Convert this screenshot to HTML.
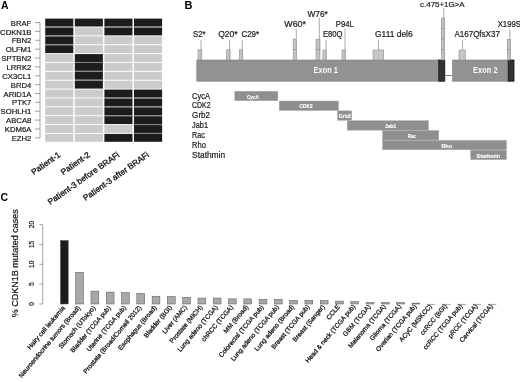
<!DOCTYPE html>
<html><head><meta charset="utf-8"><style>
html,body{margin:0;padding:0;background:#fff;width:520px;height:382px;overflow:hidden}
svg{display:block;will-change:transform;filter:blur(0.35px)}
text{font-family:"Liberation Sans", sans-serif}
</style></head><body>
<svg width="520" height="382" viewBox="0 0 520 382">
<rect width="520" height="382" fill="#fff"/>
<text x="0.9" y="9.3" font-size="10.4" font-weight="bold" fill="#000">A</text>
<rect x="45.20" y="18.60" width="28.1" height="7.9" fill="#1c1c1c"/>
<rect x="45.20" y="27.47" width="28.1" height="7.9" fill="#1c1c1c"/>
<rect x="45.20" y="36.34" width="28.1" height="7.9" fill="#1c1c1c"/>
<rect x="45.20" y="45.21" width="28.1" height="7.9" fill="#1c1c1c"/>
<rect x="45.20" y="54.08" width="28.1" height="7.9" fill="#cbcbcb"/>
<rect x="45.20" y="62.95" width="28.1" height="7.9" fill="#cbcbcb"/>
<rect x="45.20" y="71.82" width="28.1" height="7.9" fill="#cbcbcb"/>
<rect x="45.20" y="80.69" width="28.1" height="7.9" fill="#cbcbcb"/>
<rect x="45.20" y="89.56" width="28.1" height="7.9" fill="#cbcbcb"/>
<rect x="45.20" y="98.43" width="28.1" height="7.9" fill="#cbcbcb"/>
<rect x="45.20" y="107.30" width="28.1" height="7.9" fill="#cbcbcb"/>
<rect x="45.20" y="116.17" width="28.1" height="7.9" fill="#cbcbcb"/>
<rect x="45.20" y="125.04" width="28.1" height="7.9" fill="#cbcbcb"/>
<rect x="45.20" y="133.91" width="28.1" height="7.9" fill="#cbcbcb"/>
<rect x="74.80" y="18.60" width="28.1" height="7.9" fill="#1c1c1c"/>
<rect x="74.80" y="27.47" width="28.1" height="7.9" fill="#cbcbcb"/>
<rect x="74.80" y="36.34" width="28.1" height="7.9" fill="#cbcbcb"/>
<rect x="74.80" y="45.21" width="28.1" height="7.9" fill="#cbcbcb"/>
<rect x="74.80" y="54.08" width="28.1" height="7.9" fill="#1c1c1c"/>
<rect x="74.80" y="62.95" width="28.1" height="7.9" fill="#1c1c1c"/>
<rect x="74.80" y="71.82" width="28.1" height="7.9" fill="#1c1c1c"/>
<rect x="74.80" y="80.69" width="28.1" height="7.9" fill="#1c1c1c"/>
<rect x="74.80" y="89.56" width="28.1" height="7.9" fill="#cbcbcb"/>
<rect x="74.80" y="98.43" width="28.1" height="7.9" fill="#cbcbcb"/>
<rect x="74.80" y="107.30" width="28.1" height="7.9" fill="#cbcbcb"/>
<rect x="74.80" y="116.17" width="28.1" height="7.9" fill="#cbcbcb"/>
<rect x="74.80" y="125.04" width="28.1" height="7.9" fill="#cbcbcb"/>
<rect x="74.80" y="133.91" width="28.1" height="7.9" fill="#cbcbcb"/>
<rect x="104.40" y="18.60" width="28.1" height="7.9" fill="#1c1c1c"/>
<rect x="104.40" y="27.47" width="28.1" height="7.9" fill="#1c1c1c"/>
<rect x="104.40" y="36.34" width="28.1" height="7.9" fill="#cbcbcb"/>
<rect x="104.40" y="45.21" width="28.1" height="7.9" fill="#cbcbcb"/>
<rect x="104.40" y="54.08" width="28.1" height="7.9" fill="#cbcbcb"/>
<rect x="104.40" y="62.95" width="28.1" height="7.9" fill="#cbcbcb"/>
<rect x="104.40" y="71.82" width="28.1" height="7.9" fill="#cbcbcb"/>
<rect x="104.40" y="80.69" width="28.1" height="7.9" fill="#cbcbcb"/>
<rect x="104.40" y="89.56" width="28.1" height="7.9" fill="#1c1c1c"/>
<rect x="104.40" y="98.43" width="28.1" height="7.9" fill="#1c1c1c"/>
<rect x="104.40" y="107.30" width="28.1" height="7.9" fill="#1c1c1c"/>
<rect x="104.40" y="116.17" width="28.1" height="7.9" fill="#1c1c1c"/>
<rect x="104.40" y="125.04" width="28.1" height="7.9" fill="#cbcbcb"/>
<rect x="104.40" y="133.91" width="28.1" height="7.9" fill="#1c1c1c"/>
<rect x="134.00" y="18.60" width="28.1" height="7.9" fill="#1c1c1c"/>
<rect x="134.00" y="27.47" width="28.1" height="7.9" fill="#1c1c1c"/>
<rect x="134.00" y="36.34" width="28.1" height="7.9" fill="#cbcbcb"/>
<rect x="134.00" y="45.21" width="28.1" height="7.9" fill="#cbcbcb"/>
<rect x="134.00" y="54.08" width="28.1" height="7.9" fill="#cbcbcb"/>
<rect x="134.00" y="62.95" width="28.1" height="7.9" fill="#cbcbcb"/>
<rect x="134.00" y="71.82" width="28.1" height="7.9" fill="#cbcbcb"/>
<rect x="134.00" y="80.69" width="28.1" height="7.9" fill="#cbcbcb"/>
<rect x="134.00" y="89.56" width="28.1" height="7.9" fill="#1c1c1c"/>
<rect x="134.00" y="98.43" width="28.1" height="7.9" fill="#1c1c1c"/>
<rect x="134.00" y="107.30" width="28.1" height="7.9" fill="#1c1c1c"/>
<rect x="134.00" y="116.17" width="28.1" height="7.9" fill="#1c1c1c"/>
<rect x="134.00" y="125.04" width="28.1" height="7.9" fill="#1c1c1c"/>
<rect x="134.00" y="133.91" width="28.1" height="7.9" fill="#1c1c1c"/>
<rect x="45.20" y="26.50" width="28.1" height="0.97" fill="#7a7a7a"/>
<rect x="45.20" y="35.37" width="28.1" height="0.97" fill="#7a7a7a"/>
<rect x="45.20" y="44.24" width="28.1" height="0.97" fill="#7a7a7a"/>
<rect x="74.80" y="61.98" width="28.1" height="0.97" fill="#7a7a7a"/>
<rect x="74.80" y="70.85" width="28.1" height="0.97" fill="#7a7a7a"/>
<rect x="74.80" y="79.72" width="28.1" height="0.97" fill="#7a7a7a"/>
<rect x="104.40" y="26.50" width="28.1" height="0.97" fill="#7a7a7a"/>
<rect x="104.40" y="97.46" width="28.1" height="0.97" fill="#7a7a7a"/>
<rect x="104.40" y="106.33" width="28.1" height="0.97" fill="#7a7a7a"/>
<rect x="104.40" y="115.20" width="28.1" height="0.97" fill="#7a7a7a"/>
<rect x="134.00" y="26.50" width="28.1" height="0.97" fill="#7a7a7a"/>
<rect x="134.00" y="97.46" width="28.1" height="0.97" fill="#7a7a7a"/>
<rect x="134.00" y="106.33" width="28.1" height="0.97" fill="#7a7a7a"/>
<rect x="134.00" y="115.20" width="28.1" height="0.97" fill="#7a7a7a"/>
<rect x="134.00" y="124.07" width="28.1" height="0.97" fill="#7a7a7a"/>
<rect x="134.00" y="132.94" width="28.1" height="0.97" fill="#7a7a7a"/>
<line x1="40" y1="22.55" x2="40" y2="137.86" stroke="#8a8a8a" stroke-width="0.8"/>
<line x1="35" y1="22.55" x2="40" y2="22.55" stroke="#8a8a8a" stroke-width="0.8"/>
<text x="31.3" y="25.65" font-size="7.7" text-anchor="end" fill="#111" stroke="#111" stroke-width="0.18">BRAF</text>
<line x1="35" y1="31.42" x2="40" y2="31.42" stroke="#8a8a8a" stroke-width="0.8"/>
<text x="31.3" y="34.52" font-size="7.7" text-anchor="end" fill="#111" stroke="#111" stroke-width="0.18">CDKN1B</text>
<line x1="35" y1="40.29" x2="40" y2="40.29" stroke="#8a8a8a" stroke-width="0.8"/>
<text x="31.3" y="43.39" font-size="7.7" text-anchor="end" fill="#111" stroke="#111" stroke-width="0.18">FBN2</text>
<line x1="35" y1="49.16" x2="40" y2="49.16" stroke="#8a8a8a" stroke-width="0.8"/>
<text x="31.3" y="52.26" font-size="7.7" text-anchor="end" fill="#111" stroke="#111" stroke-width="0.18">OLFM1</text>
<line x1="35" y1="58.03" x2="40" y2="58.03" stroke="#8a8a8a" stroke-width="0.8"/>
<text x="31.3" y="61.13" font-size="7.7" text-anchor="end" fill="#111" stroke="#111" stroke-width="0.18">SPTBN2</text>
<line x1="35" y1="66.90" x2="40" y2="66.90" stroke="#8a8a8a" stroke-width="0.8"/>
<text x="31.3" y="70.00" font-size="7.7" text-anchor="end" fill="#111" stroke="#111" stroke-width="0.18">LRRK2</text>
<line x1="35" y1="75.77" x2="40" y2="75.77" stroke="#8a8a8a" stroke-width="0.8"/>
<text x="31.3" y="78.87" font-size="7.7" text-anchor="end" fill="#111" stroke="#111" stroke-width="0.18">CX3CL1</text>
<line x1="35" y1="84.64" x2="40" y2="84.64" stroke="#8a8a8a" stroke-width="0.8"/>
<text x="31.3" y="87.74" font-size="7.7" text-anchor="end" fill="#111" stroke="#111" stroke-width="0.18">BRD4</text>
<line x1="35" y1="93.51" x2="40" y2="93.51" stroke="#8a8a8a" stroke-width="0.8"/>
<text x="31.3" y="96.61" font-size="7.7" text-anchor="end" fill="#111" stroke="#111" stroke-width="0.18">ARID1A</text>
<line x1="35" y1="102.38" x2="40" y2="102.38" stroke="#8a8a8a" stroke-width="0.8"/>
<text x="31.3" y="105.48" font-size="7.7" text-anchor="end" fill="#111" stroke="#111" stroke-width="0.18">PTK7</text>
<line x1="35" y1="111.25" x2="40" y2="111.25" stroke="#8a8a8a" stroke-width="0.8"/>
<text x="31.3" y="114.35" font-size="7.7" text-anchor="end" fill="#111" stroke="#111" stroke-width="0.18">SOHLH1</text>
<line x1="35" y1="120.12" x2="40" y2="120.12" stroke="#8a8a8a" stroke-width="0.8"/>
<text x="31.3" y="123.22" font-size="7.7" text-anchor="end" fill="#111" stroke="#111" stroke-width="0.18">ABCA8</text>
<line x1="35" y1="128.99" x2="40" y2="128.99" stroke="#8a8a8a" stroke-width="0.8"/>
<text x="31.3" y="132.09" font-size="7.7" text-anchor="end" fill="#111" stroke="#111" stroke-width="0.18">KDM6A</text>
<line x1="35" y1="137.86" x2="40" y2="137.86" stroke="#8a8a8a" stroke-width="0.8"/>
<text x="31.3" y="140.96" font-size="7.7" text-anchor="end" fill="#111" stroke="#111" stroke-width="0.18">EZH2</text>
<text transform="translate(58.05,152.0) scale(1,1.0) rotate(-35)" x="0" y="5" font-size="8.3" text-anchor="end" fill="#111" stroke="#111" stroke-width="0.3">Patient-1</text>
<text transform="translate(87.65,152.0) scale(1,1.0) rotate(-35)" x="0" y="5" font-size="8.3" text-anchor="end" fill="#111" stroke="#111" stroke-width="0.3">Patient-2</text>
<text transform="translate(117.25,152.0) scale(1,1.0) rotate(-35)" x="0" y="5" font-size="8.3" text-anchor="end" fill="#111" stroke="#111" stroke-width="0.3">Patient-3 before BRAFi</text>
<text transform="translate(146.85,152.0) scale(1,1.0) rotate(-35)" x="0" y="5" font-size="8.3" text-anchor="end" fill="#111" stroke="#111" stroke-width="0.3">Patient-3 after BRAFi</text>
<text x="184.6" y="9.2" font-size="11" font-weight="bold" fill="#000">B</text>
<rect x="196.8" y="60" width="242" height="21.2" fill="#929292" stroke="#7c7c7c" stroke-width="0.6"/>
<rect x="438.8" y="60" width="6" height="21.2" fill="#333" stroke="#111" stroke-width="0.8"/>
<line x1="444.8" y1="75.5" x2="452.6" y2="75.5" stroke="#666" stroke-width="0.8"/>
<rect x="452.6" y="60" width="55.6" height="21.2" fill="#929292" stroke="#7c7c7c" stroke-width="0.6"/>
<rect x="508.2" y="60" width="5.8" height="21.2" fill="#333" stroke="#111" stroke-width="0.8"/>
<text x="313.6" y="72.8" font-size="8.4" font-weight="bold" fill="#fafafa" textLength="24.3" lengthAdjust="spacingAndGlyphs">Exon 1</text>
<text x="473" y="73.1" font-size="8.4" font-weight="bold" fill="#fafafa" textLength="24.6" lengthAdjust="spacingAndGlyphs">Exon 2</text>
<line x1="201.0" y1="39.8" x2="201.0" y2="49.8" stroke="#8a8a8a" stroke-width="0.7"/>
<rect x="198.0" y="49.80" width="3.80" height="10.20" fill="#c6c6c6" stroke="#8c8c8c" stroke-width="0.6"/>
<line x1="201.0" y1="49.8" x2="201.0" y2="60" stroke="#a0a0a0" stroke-width="0.5"/>
<text x="193.0" y="37.3" font-size="8.2" fill="#1a1a1a" stroke="#1a1a1a" stroke-width="0.2" textLength="12.60" lengthAdjust="spacingAndGlyphs">S2*</text>
<line x1="229.5" y1="39.8" x2="229.5" y2="49.8" stroke="#8a8a8a" stroke-width="0.7"/>
<rect x="226.7" y="49.80" width="3.40" height="10.20" fill="#c6c6c6" stroke="#8c8c8c" stroke-width="0.6"/>
<line x1="229.5" y1="49.8" x2="229.5" y2="60" stroke="#a0a0a0" stroke-width="0.5"/>
<text x="218.2" y="37.3" font-size="8.2" fill="#1a1a1a" stroke="#1a1a1a" stroke-width="0.2" textLength="19.40" lengthAdjust="spacingAndGlyphs">Q20*</text>
<line x1="242.2" y1="39.8" x2="242.2" y2="49.8" stroke="#8a8a8a" stroke-width="0.7"/>
<rect x="239.3" y="49.80" width="3.50" height="10.20" fill="#c6c6c6" stroke="#8c8c8c" stroke-width="0.6"/>
<line x1="242.2" y1="49.8" x2="242.2" y2="60" stroke="#a0a0a0" stroke-width="0.5"/>
<text x="241.4" y="37.3" font-size="8.2" fill="#1a1a1a" stroke="#1a1a1a" stroke-width="0.2" textLength="17.80" lengthAdjust="spacingAndGlyphs">C29*</text>
<line x1="296.3" y1="29.3" x2="296.3" y2="39.1" stroke="#8a8a8a" stroke-width="0.7"/>
<rect x="293.2" y="39.10" width="3.40" height="10.45" fill="#c6c6c6" stroke="#8c8c8c" stroke-width="0.6"/>
<rect x="293.2" y="49.55" width="3.40" height="10.45" fill="#c6c6c6" stroke="#8c8c8c" stroke-width="0.6"/>
<line x1="296.3" y1="39.1" x2="296.3" y2="60" stroke="#a0a0a0" stroke-width="0.5"/>
<text x="284.3" y="26.9" font-size="8.2" fill="#1a1a1a" stroke="#1a1a1a" stroke-width="0.2" textLength="21.70" lengthAdjust="spacingAndGlyphs">W60*</text>
<line x1="319.3" y1="17.9" x2="319.3" y2="39.4" stroke="#8a8a8a" stroke-width="0.7"/>
<rect x="316.0" y="39.40" width="4.00" height="10.30" fill="#c6c6c6" stroke="#8c8c8c" stroke-width="0.6"/>
<rect x="316.0" y="49.70" width="4.00" height="10.30" fill="#c6c6c6" stroke="#8c8c8c" stroke-width="0.6"/>
<line x1="319.3" y1="39.4" x2="319.3" y2="60" stroke="#a0a0a0" stroke-width="0.5"/>
<text x="307.5" y="16.5" font-size="8.2" fill="#1a1a1a" stroke="#1a1a1a" stroke-width="0.2" textLength="20.30" lengthAdjust="spacingAndGlyphs">W76*</text>
<line x1="326.0" y1="40.0" x2="326.0" y2="50.0" stroke="#8a8a8a" stroke-width="0.7"/>
<rect x="322.9" y="50.00" width="3.50" height="10.00" fill="#c6c6c6" stroke="#8c8c8c" stroke-width="0.6"/>
<line x1="326.0" y1="50.0" x2="326.0" y2="60" stroke="#a0a0a0" stroke-width="0.5"/>
<text x="322.9" y="37.0" font-size="8.2" fill="#1a1a1a" stroke="#1a1a1a" stroke-width="0.2" textLength="19.60" lengthAdjust="spacingAndGlyphs">E80Q</text>
<line x1="345.0" y1="28.8" x2="345.0" y2="50.0" stroke="#8a8a8a" stroke-width="0.7"/>
<rect x="342.0" y="50.00" width="3.50" height="10.00" fill="#c6c6c6" stroke="#8c8c8c" stroke-width="0.6"/>
<line x1="345.0" y1="50.0" x2="345.0" y2="60" stroke="#a0a0a0" stroke-width="0.5"/>
<text x="335.8" y="27.0" font-size="8.2" fill="#1a1a1a" stroke="#1a1a1a" stroke-width="0.2" textLength="18.00" lengthAdjust="spacingAndGlyphs">P94L</text>
<line x1="378.5" y1="40.0" x2="378.5" y2="50.0" stroke="#8a8a8a" stroke-width="0.7"/>
<rect x="373.0" y="50.00" width="10.70" height="10.00" fill="#c6c6c6" stroke="#8c8c8c" stroke-width="0.6"/>
<text x="375.0" y="37.0" font-size="8.2" fill="#1a1a1a" stroke="#1a1a1a" stroke-width="0.2" textLength="37.70" lengthAdjust="spacingAndGlyphs">G111 del6</text>
<line x1="443.8" y1="8.2" x2="443.8" y2="18.0" stroke="#8a8a8a" stroke-width="0.7"/>
<rect x="441.3" y="18.00" width="3.30" height="10.50" fill="#c6c6c6" stroke="#8c8c8c" stroke-width="0.6"/>
<rect x="441.3" y="28.50" width="3.30" height="10.50" fill="#c6c6c6" stroke="#8c8c8c" stroke-width="0.6"/>
<rect x="441.3" y="39.00" width="3.30" height="10.50" fill="#c6c6c6" stroke="#8c8c8c" stroke-width="0.6"/>
<rect x="441.3" y="49.50" width="3.30" height="10.50" fill="#c6c6c6" stroke="#8c8c8c" stroke-width="0.6"/>
<line x1="443.8" y1="18.0" x2="443.8" y2="60" stroke="#a0a0a0" stroke-width="0.5"/>
<text x="420.1" y="6.6" font-size="7.4" fill="#1a1a1a" stroke="#1a1a1a" stroke-width="0.2" textLength="44.40" lengthAdjust="spacingAndGlyphs">c.475+1G&gt;A</text>
<line x1="462.5" y1="40.0" x2="462.5" y2="50.0" stroke="#8a8a8a" stroke-width="0.7"/>
<rect x="459.0" y="50.00" width="6.30" height="10.00" fill="#c6c6c6" stroke="#8c8c8c" stroke-width="0.6"/>
<text x="454.4" y="37.4" font-size="8.2" fill="#1a1a1a" stroke="#1a1a1a" stroke-width="0.2" textLength="45.50" lengthAdjust="spacingAndGlyphs">A167QfsX37</text>
<line x1="509.8" y1="29.6" x2="509.8" y2="39.3" stroke="#8a8a8a" stroke-width="0.7"/>
<rect x="507.3" y="39.30" width="3.10" height="10.35" fill="#c6c6c6" stroke="#8c8c8c" stroke-width="0.6"/>
<rect x="507.3" y="49.65" width="3.10" height="10.35" fill="#c6c6c6" stroke="#8c8c8c" stroke-width="0.6"/>
<line x1="509.8" y1="39.3" x2="509.8" y2="60" stroke="#a0a0a0" stroke-width="0.5"/>
<text x="497.7" y="27.0" font-size="8.2" fill="#1a1a1a" stroke="#1a1a1a" stroke-width="0.2" textLength="23.30" lengthAdjust="spacingAndGlyphs">X199S</text>
<rect x="234.8" y="91.20" width="43.10" height="9.5" fill="#8f8f8f" stroke="#a9a9a9" stroke-width="0.4"/>
<text x="192.1" y="98.6" font-size="8.2" fill="#1a1a1a" stroke="#1a1a1a" stroke-width="0.2" textLength="18.00" lengthAdjust="spacingAndGlyphs">CycA</text>
<text x="247.0" y="98.60" font-size="5.4" font-weight="bold" fill="#fff" stroke="#fff" stroke-width="0.15" textLength="11.80" lengthAdjust="spacingAndGlyphs">CycA</text>
<rect x="279.2" y="101.02" width="59.40" height="9.5" fill="#8f8f8f" stroke="#a9a9a9" stroke-width="0.4"/>
<text x="192.1" y="108.2" font-size="8.2" fill="#1a1a1a" stroke="#1a1a1a" stroke-width="0.2" textLength="18.50" lengthAdjust="spacingAndGlyphs">CDK2</text>
<text x="299.6" y="108.42" font-size="5.4" font-weight="bold" fill="#fff" stroke="#fff" stroke-width="0.15" textLength="13.10" lengthAdjust="spacingAndGlyphs">CDK2</text>
<rect x="337.5" y="110.84" width="14.20" height="9.5" fill="#8f8f8f" stroke="#a9a9a9" stroke-width="0.4"/>
<text x="192.1" y="118.2" font-size="8.2" fill="#1a1a1a" stroke="#1a1a1a" stroke-width="0.2" textLength="18.00" lengthAdjust="spacingAndGlyphs">Grb2</text>
<text x="338.7" y="118.24" font-size="5.4" font-weight="bold" fill="#fff" stroke="#fff" stroke-width="0.15" textLength="12.40" lengthAdjust="spacingAndGlyphs">Grb2</text>
<rect x="347.2" y="120.66" width="81.20" height="9.5" fill="#8f8f8f" stroke="#a9a9a9" stroke-width="0.4"/>
<text x="192.1" y="128.2" font-size="8.2" fill="#1a1a1a" stroke="#1a1a1a" stroke-width="0.2" textLength="15.90" lengthAdjust="spacingAndGlyphs">Jab1</text>
<text x="385.0" y="128.06" font-size="5.4" font-weight="bold" fill="#fff" stroke="#fff" stroke-width="0.15" textLength="11.20" lengthAdjust="spacingAndGlyphs">Jab1</text>
<rect x="382.5" y="130.48" width="56.30" height="9.5" fill="#8f8f8f" stroke="#a9a9a9" stroke-width="0.4"/>
<text x="192.1" y="137.8" font-size="8.2" fill="#1a1a1a" stroke="#1a1a1a" stroke-width="0.2" textLength="12.70" lengthAdjust="spacingAndGlyphs">Rac</text>
<text x="407.7" y="137.88" font-size="5.4" font-weight="bold" fill="#fff" stroke="#fff" stroke-width="0.15" textLength="8.50" lengthAdjust="spacingAndGlyphs">Rac</text>
<rect x="382.5" y="140.30" width="124.00" height="9.5" fill="#8f8f8f" stroke="#a9a9a9" stroke-width="0.4"/>
<text x="192.1" y="147.5" font-size="8.2" fill="#1a1a1a" stroke="#1a1a1a" stroke-width="0.2" textLength="13.90" lengthAdjust="spacingAndGlyphs">Rho</text>
<text x="441.4" y="147.70" font-size="5.4" font-weight="bold" fill="#fff" stroke="#fff" stroke-width="0.15" textLength="10.60" lengthAdjust="spacingAndGlyphs">Rho</text>
<rect x="470.6" y="150.12" width="35.90" height="9.5" fill="#8f8f8f" stroke="#a9a9a9" stroke-width="0.4"/>
<text x="192.1" y="157.5" font-size="8.2" fill="#1a1a1a" stroke="#1a1a1a" stroke-width="0.2" textLength="33.00" lengthAdjust="spacingAndGlyphs">Stathmin</text>
<text x="476.6" y="157.52" font-size="5.4" font-weight="bold" fill="#fff" stroke="#fff" stroke-width="0.15" textLength="23.40" lengthAdjust="spacingAndGlyphs">Stathmin</text>
<text x="0.5" y="201.3" font-size="10.5" font-weight="bold" fill="#000">C</text>
<line x1="42.7" y1="224.60" x2="42.7" y2="304.00" stroke="#8a8a8a" stroke-width="0.8"/>
<line x1="39.4" y1="304.00" x2="42.7" y2="304.00" stroke="#8a8a8a" stroke-width="0.8"/>
<text transform="translate(33.6,304.00) rotate(-90)" x="0" y="0" font-size="6.6" text-anchor="middle" fill="#111" stroke="#111" stroke-width="0.2">0</text>
<line x1="39.4" y1="284.15" x2="42.7" y2="284.15" stroke="#8a8a8a" stroke-width="0.8"/>
<text transform="translate(33.6,284.15) rotate(-90)" x="0" y="0" font-size="6.6" text-anchor="middle" fill="#111" stroke="#111" stroke-width="0.2">5</text>
<line x1="39.4" y1="264.30" x2="42.7" y2="264.30" stroke="#8a8a8a" stroke-width="0.8"/>
<text transform="translate(33.6,264.30) rotate(-90)" x="0" y="0" font-size="6.6" text-anchor="middle" fill="#111" stroke="#111" stroke-width="0.2">10</text>
<line x1="39.4" y1="244.45" x2="42.7" y2="244.45" stroke="#8a8a8a" stroke-width="0.8"/>
<text transform="translate(33.6,244.45) rotate(-90)" x="0" y="0" font-size="6.6" text-anchor="middle" fill="#111" stroke="#111" stroke-width="0.2">15</text>
<line x1="39.4" y1="224.60" x2="42.7" y2="224.60" stroke="#8a8a8a" stroke-width="0.8"/>
<text transform="translate(33.6,224.60) rotate(-90)" x="0" y="0" font-size="6.6" text-anchor="middle" fill="#111" stroke="#111" stroke-width="0.2">20</text>
<text transform="translate(18.2,263.30) rotate(-90)" x="0" y="0" font-size="9.0" text-anchor="middle" fill="#111" stroke="#111" stroke-width="0.2">% CDKN1B mutated cases</text>
<rect x="60.40" y="240.48" width="7.8" height="63.52" fill="#1c1c1c" stroke="#555" stroke-width="0.5"/>
<text transform="translate(63.70,306.90) scale(1,1.0) rotate(-50)" x="0" y="2" font-size="6.5" text-anchor="end" fill="#111" stroke="#111" stroke-width="0.25">Hairy cell leukemia</text>
<rect x="75.69" y="272.24" width="7.8" height="31.76" fill="#a8a8a8" stroke="#555" stroke-width="0.5"/>
<text transform="translate(78.99,306.83) scale(1,1.0) rotate(-50)" x="0" y="2" font-size="6.5" text-anchor="end" fill="#111" stroke="#111" stroke-width="0.25">Neuroendocrine tumors (Broad)</text>
<rect x="90.97" y="291.10" width="7.8" height="12.90" fill="#a8a8a8" stroke="#555" stroke-width="0.5"/>
<text transform="translate(94.27,306.76) scale(1,1.0) rotate(-50)" x="0" y="2" font-size="6.5" text-anchor="end" fill="#111" stroke="#111" stroke-width="0.25">Stomach (UTokyo)</text>
<rect x="106.25" y="292.09" width="7.8" height="11.91" fill="#a8a8a8" stroke="#555" stroke-width="0.5"/>
<text transform="translate(109.56,306.69) scale(1,1.0) rotate(-50)" x="0" y="2" font-size="6.5" text-anchor="end" fill="#111" stroke="#111" stroke-width="0.25">Bladder (TCGA pub)</text>
<rect x="121.54" y="292.69" width="7.8" height="11.31" fill="#a8a8a8" stroke="#555" stroke-width="0.5"/>
<text transform="translate(124.84,306.62) scale(1,1.0) rotate(-50)" x="0" y="2" font-size="6.5" text-anchor="end" fill="#111" stroke="#111" stroke-width="0.25">Uterine (TCGA pub)</text>
<rect x="136.82" y="293.28" width="7.8" height="10.72" fill="#a8a8a8" stroke="#555" stroke-width="0.5"/>
<text transform="translate(140.12,306.55) scale(1,1.0) rotate(-50)" x="0" y="2" font-size="6.5" text-anchor="end" fill="#111" stroke="#111" stroke-width="0.25">Prostate (Broad/Cornell 2012)</text>
<rect x="152.11" y="296.22" width="7.8" height="7.78" fill="#a8a8a8" stroke="#555" stroke-width="0.5"/>
<text transform="translate(155.41,306.48) scale(1,1.0) rotate(-50)" x="0" y="2" font-size="6.5" text-anchor="end" fill="#111" stroke="#111" stroke-width="0.25">Esophagus (Broad)</text>
<rect x="167.40" y="296.46" width="7.8" height="7.54" fill="#a8a8a8" stroke="#555" stroke-width="0.5"/>
<text transform="translate(170.70,306.41) scale(1,1.0) rotate(-50)" x="0" y="2" font-size="6.5" text-anchor="end" fill="#111" stroke="#111" stroke-width="0.25">Bladder (BGI)</text>
<rect x="182.68" y="297.25" width="7.8" height="6.75" fill="#a8a8a8" stroke="#555" stroke-width="0.5"/>
<text transform="translate(185.98,306.34) scale(1,1.0) rotate(-50)" x="0" y="2" font-size="6.5" text-anchor="end" fill="#111" stroke="#111" stroke-width="0.25">Liver (AMC)</text>
<rect x="197.97" y="298.05" width="7.8" height="5.96" fill="#a8a8a8" stroke="#555" stroke-width="0.5"/>
<text transform="translate(201.27,306.27) scale(1,1.0) rotate(-50)" x="0" y="2" font-size="6.5" text-anchor="end" fill="#111" stroke="#111" stroke-width="0.25">Prostate (MICH)</text>
<rect x="213.25" y="298.05" width="7.8" height="5.96" fill="#a8a8a8" stroke="#555" stroke-width="0.5"/>
<text transform="translate(216.55,306.20) scale(1,1.0) rotate(-50)" x="0" y="2" font-size="6.5" text-anchor="end" fill="#111" stroke="#111" stroke-width="0.25">Lung adeno (TCGA)</text>
<rect x="228.53" y="298.84" width="7.8" height="5.16" fill="#a8a8a8" stroke="#555" stroke-width="0.5"/>
<text transform="translate(231.84,306.13) scale(1,1.0) rotate(-50)" x="0" y="2" font-size="6.5" text-anchor="end" fill="#111" stroke="#111" stroke-width="0.25">chRCC (TCGA)</text>
<rect x="243.82" y="298.84" width="7.8" height="5.16" fill="#a8a8a8" stroke="#555" stroke-width="0.5"/>
<text transform="translate(247.12,306.06) scale(1,1.0) rotate(-50)" x="0" y="2" font-size="6.5" text-anchor="end" fill="#111" stroke="#111" stroke-width="0.25">MM (Broad)</text>
<rect x="259.11" y="299.24" width="7.8" height="4.76" fill="#a8a8a8" stroke="#555" stroke-width="0.5"/>
<text transform="translate(262.40,305.99) scale(1,1.0) rotate(-50)" x="0" y="2" font-size="6.5" text-anchor="end" fill="#111" stroke="#111" stroke-width="0.25">Colorectal (TCGA pub)</text>
<rect x="274.39" y="299.24" width="7.8" height="4.76" fill="#a8a8a8" stroke="#555" stroke-width="0.5"/>
<text transform="translate(277.69,305.92) scale(1,1.0) rotate(-50)" x="0" y="2" font-size="6.5" text-anchor="end" fill="#111" stroke="#111" stroke-width="0.25">Lung adeno (TCGA pub)</text>
<rect x="289.68" y="300.31" width="7.8" height="3.69" fill="#a8a8a8" stroke="#555" stroke-width="0.5"/>
<text transform="translate(292.97,305.85) scale(1,1.0) rotate(-50)" x="0" y="2" font-size="6.5" text-anchor="end" fill="#111" stroke="#111" stroke-width="0.25">Lung adeno (Broad)</text>
<rect x="304.96" y="300.31" width="7.8" height="3.69" fill="#a8a8a8" stroke="#555" stroke-width="0.5"/>
<text transform="translate(308.26,305.78) scale(1,1.0) rotate(-50)" x="0" y="2" font-size="6.5" text-anchor="end" fill="#111" stroke="#111" stroke-width="0.25">Breast (TCGA pub)</text>
<rect x="320.25" y="300.51" width="7.8" height="3.49" fill="#a8a8a8" stroke="#555" stroke-width="0.5"/>
<text transform="translate(323.54,305.71) scale(1,1.0) rotate(-50)" x="0" y="2" font-size="6.5" text-anchor="end" fill="#111" stroke="#111" stroke-width="0.25">Breast (Sanger)</text>
<rect x="335.53" y="301.10" width="7.8" height="2.90" fill="#a8a8a8" stroke="#555" stroke-width="0.5"/>
<text transform="translate(338.83,305.64) scale(1,1.0) rotate(-50)" x="0" y="2" font-size="6.5" text-anchor="end" fill="#111" stroke="#111" stroke-width="0.25">CCLE</text>
<rect x="350.81" y="301.54" width="7.8" height="2.46" fill="#a8a8a8" stroke="#555" stroke-width="0.5"/>
<text transform="translate(354.11,305.57) scale(1,1.0) rotate(-50)" x="0" y="2" font-size="6.5" text-anchor="end" fill="#111" stroke="#111" stroke-width="0.25">Head &amp; neck (TCGA pub)</text>
<rect x="366.10" y="302.57" width="7.8" height="1.43" fill="#a8a8a8" stroke="#555" stroke-width="0.5"/>
<text transform="translate(369.40,305.50) scale(1,1.0) rotate(-50)" x="0" y="2" font-size="6.5" text-anchor="end" fill="#111" stroke="#111" stroke-width="0.25">GBM (TCGA)</text>
<rect x="381.38" y="302.57" width="7.8" height="1.43" fill="#a8a8a8" stroke="#555" stroke-width="0.5"/>
<text transform="translate(384.68,305.43) scale(1,1.0) rotate(-50)" x="0" y="2" font-size="6.5" text-anchor="end" fill="#111" stroke="#111" stroke-width="0.25">Melanoma (TCGA)</text>
<rect x="396.67" y="302.57" width="7.8" height="1.43" fill="#a8a8a8" stroke="#555" stroke-width="0.5"/>
<text transform="translate(399.97,305.36) scale(1,1.0) rotate(-50)" x="0" y="2" font-size="6.5" text-anchor="end" fill="#111" stroke="#111" stroke-width="0.25">Glioma (TCGA)</text>
<rect x="411.95" y="303.13" width="7.8" height="0.87" fill="#a8a8a8" stroke="#555" stroke-width="0.5"/>
<text transform="translate(415.25,305.29) scale(1,1.0) rotate(-50)" x="0" y="2" font-size="6.5" text-anchor="end" fill="#111" stroke="#111" stroke-width="0.25">Ovarian (TCGA pub)</text>
<line x1="427.04" y1="304.40" x2="435.24" y2="304.40" stroke="#8a8a8a" stroke-width="0.8"/>
<text transform="translate(430.54,305.22) scale(1,1.0) rotate(-50)" x="0" y="2" font-size="6.5" text-anchor="end" fill="#111" stroke="#111" stroke-width="0.25">ACyC (MSKCC)</text>
<line x1="442.32" y1="304.40" x2="450.52" y2="304.40" stroke="#8a8a8a" stroke-width="0.8"/>
<text transform="translate(445.82,305.15) scale(1,1.0) rotate(-50)" x="0" y="2" font-size="6.5" text-anchor="end" fill="#111" stroke="#111" stroke-width="0.25">ccRCC (BGI)</text>
<line x1="457.61" y1="304.40" x2="465.81" y2="304.40" stroke="#8a8a8a" stroke-width="0.8"/>
<text transform="translate(461.11,305.08) scale(1,1.0) rotate(-50)" x="0" y="2" font-size="6.5" text-anchor="end" fill="#111" stroke="#111" stroke-width="0.25">ccRCC (TCGA pub)</text>
<line x1="472.89" y1="304.40" x2="481.09" y2="304.40" stroke="#8a8a8a" stroke-width="0.8"/>
<text transform="translate(476.39,305.01) scale(1,1.0) rotate(-50)" x="0" y="2" font-size="6.5" text-anchor="end" fill="#111" stroke="#111" stroke-width="0.25">pRCC (TCGA)</text>
<line x1="488.18" y1="304.40" x2="496.38" y2="304.40" stroke="#8a8a8a" stroke-width="0.8"/>
<text transform="translate(491.68,304.94) scale(1,1.0) rotate(-50)" x="0" y="2" font-size="6.5" text-anchor="end" fill="#111" stroke="#111" stroke-width="0.25">Cervical (TCGA)</text>
</svg>
</body></html>
